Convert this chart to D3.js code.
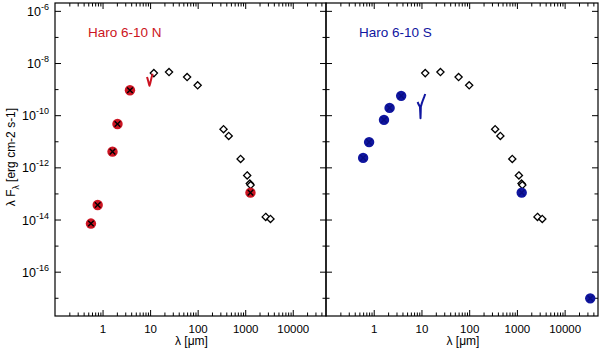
<!DOCTYPE html>
<html lang="en">
<head>
<meta charset="UTF-8">
<title>Haro 6-10 SED</title>
<style>
  body { margin: 0; background: #fff; }
  svg { font-family: "Liberation Sans", Arial, Helvetica, sans-serif; }
</style>
</head>
<body>
<svg width="600" height="353"></svg>
<script src="https://d3js.org/d3.v7.min.js"></script>
<script>
// photometry, wavelength in micron, lambda*F_lambda in erg cm-2 s-1
var lamN = [0.57, 0.79, 1.62, 2.06, 3.77, 1290];
var fluxN = [7e-15, 3.6e-14, 4e-12, 4.6e-11, 9e-10, 1.07e-13];
var lamS = [0.6, 0.8, 1.64, 2.15, 3.76, 1260, 34400];
var fluxS = [2.3e-12, 9.3e-12, 6.6e-11, 1.9e-10, 5.5e-10, 1.07e-13, 9.5e-18];

// unresolved photometry (both panels)
var lamD = [12, 25, 60, 100, 350, 450, 800, 1100, 1250, 1300, 2700, 3400];
var fluxD = [4.1e-9, 4.5e-9, 2.9e-9, 1.4e-9, 2.9e-11, 1.6e-11, 2.1e-12, 4.9e-13, 2.4e-13, 2.1e-13, 1.26e-14, 1.05e-14];

// IRS spectra
var specLamN = [8.6, 8.9, 9.2, 9.5, 9.7, 10.0, 10.4, 10.8, 11.3];
var specFluxN = [2.9e-9, 2.4e-9, 1.9e-9, 1.5e-9, 1.35e-9, 1.6e-9, 2.2e-9, 2.9e-9, 3.9e-9];
var specLamS = [8.3, 8.8, 9.3, 9.45, 9.55, 9.65, 9.7, 10.2, 10.8, 11.4, 12];
var specFluxS = [3.2e-10, 2.5e-10, 2.1e-10, 1.2e-10, 7.6e-11, 1.3e-10, 2.1e-10, 2.9e-10, 3.9e-10, 5.0e-10, 6.5e-10];

var xMajor = [1, 10, 100, 1000, 10000];
var yMajorExp = [-6, -8, -10, -12, -14, -16];
var yMinorExp = [-7, -9, -11, -13, -15, -17];

var svg = d3.select('svg');
var top_ = 3, bottom = 316;

var y = d3.scaleLog().domain([2e-18, 2e-6]).range([bottom, top_]);

var xMinor = [];
for (var k = -1; k <= 4; k++) {
  for (var m = 2; m <= 9; m++) {
    var v = m * Math.pow(10, k);
    if (v < 5e4) xMinor.push(v);
  }
}

var panels = [
  {x0: 55, x1: 326, name: 'Haro 6-10 N', color: '#cc1422', lam: lamN, flux: fluxN,
   sl: specLamN, sf: specFluxN, cross: '#000', labels: true},
  {x0: 326, x1: 598, name: 'Haro 6-10 S', color: '#1016a0', lam: lamS, flux: fluxS,
   sl: specLamS, sf: specFluxS, cross: '#000060', labels: false}
];

panels.forEach(function(p) {
  var x = d3.scaleLog().domain([0.1, 5e4]).range([p.x0, p.x1]);
  var g = svg.append('g');

  // minor + major ticks on all four sides
  function tickAxis(axisFn, scale, vals, size, tr) {
    var a = g.append('g').attr('transform', tr)
      .call(axisFn(scale).tickValues(vals).tickSize(size).tickFormat(''));
    a.select('.domain').remove();
    a.selectAll('line').attr('stroke', '#000');
    return a;
  }
  tickAxis(d3.axisBottom, x, xMinor, -3.5, 'translate(0,' + bottom + ')');
  tickAxis(d3.axisTop, x, xMinor, -3.5, 'translate(0,' + top_ + ')');
  tickAxis(d3.axisTop, x, xMajor, -6, 'translate(0,' + top_ + ')');
  var xb = g.append('g').attr('transform', 'translate(0,' + bottom + ')')
    .call(d3.axisBottom(x).tickValues(xMajor).tickSize(-6).tickFormat(d3.format('d')));
  xb.select('.domain').remove();
  xb.selectAll('text').attr('dy', null).attr('y', 17)
    .attr('font-size', '11.5px').attr('font-family', null).attr('fill', '#000');

  var yMaj = yMajorExp.map(function(e) { return Math.pow(10, e); });
  var yMin = yMinorExp.map(function(e) { return Math.pow(10, e); });
  tickAxis(d3.axisLeft, y, yMin, -3.5, 'translate(' + p.x0 + ',0)');
  tickAxis(d3.axisRight, y, yMin, -3.5, 'translate(' + p.x1 + ',0)');
  tickAxis(d3.axisRight, y, yMaj, -6, 'translate(' + p.x1 + ',0)');
  var yl = g.append('g').attr('transform', 'translate(' + p.x0 + ',0)')
    .call(d3.axisLeft(y).tickValues(yMaj).tickSize(-6).tickFormat(''));
  yl.select('.domain').remove();
  if (p.labels) {
    yl.selectAll('.tick').each(function(d) {
      var t = d3.select(this).select('text')
        .attr('x', -6).attr('dy', null).attr('y', 4.5)
        .attr('font-size', '12.5px').attr('font-family', null).attr('fill', '#000')
        .attr('text-anchor', 'end');
      t.text('10');
      t.append('tspan').attr('dy', -6).attr('font-size', '9px')
        .text(Math.round(Math.log10(d)));
    });
  }

  // frame
  g.append('rect').attr('x', p.x0).attr('y', top_)
    .attr('width', p.x1 - p.x0).attr('height', bottom - top_)
    .attr('fill', 'none').attr('stroke', '#000').attr('stroke-width', 1.2);

  // diamonds
  var dm = 3.6;
  g.selectAll('path.dia').data(lamD).enter().append('path')
    .attr('class', 'dia')
    .attr('d', 'M0,' + (-dm) + 'L' + dm + ',0L0,' + dm + 'L' + (-dm) + ',0Z')
    .attr('transform', function(d, i) { return 'translate(' + x(d) + ',' + y(fluxD[i]) + ')'; })
    .attr('fill', '#fff').attr('stroke', '#000').attr('stroke-width', 1.3);

  // spectrum
  var line = d3.line()
    .x(function(d) { return x(d); })
    .y(function(d, i) { return y(p.sf[i]); });
  g.append('path').datum(p.sl).attr('d', line)
    .attr('fill', 'none').attr('stroke', p.color).attr('stroke-width', 2)
    .attr('stroke-linejoin', 'round');

  // filled circles with cross
  var pts = g.selectAll('g.pt').data(p.lam).enter().append('g')
    .attr('class', 'pt')
    .attr('transform', function(d, i) { return 'translate(' + x(d) + ',' + y(p.flux[i]) + ')'; });
  pts.append('circle').attr('r', 5.2).attr('fill', p.color);
  var c = 2.8;
  pts.append('path').attr('d', 'M' + (-c) + ',' + (-c) + 'L' + c + ',' + c + 'M' + (-c) + ',' + c + 'L' + c + ',' + (-c))
    .attr('stroke', p.cross).attr('stroke-width', 1.4)
    .attr('opacity', p.labels ? 1 : 0.45);

  // panel name
  g.append('text').attr('x', p.x0 + 33).attr('y', 37)
    .attr('font-size', '13.5px').attr('fill', p.color).text(p.name);

  // x label
  g.append('text').attr('x', (p.x0 + p.x1) / 2 + 1).attr('y', 345)
    .attr('text-anchor', 'middle').attr('font-size', '12px').text('λ [μm]');
});

// y label
var ylab = svg.append('text').attr('transform', 'translate(15,157) rotate(-90)')
  .attr('text-anchor', 'middle').attr('font-size', '12px');
ylab.append('tspan').text('λ F');
ylab.append('tspan').attr('dy', 4).attr('font-size', '8.5px').text('λ');
ylab.append('tspan').attr('dy', -4).text(' [erg cm-2 s-1]');
</script>
</body>
</html>
